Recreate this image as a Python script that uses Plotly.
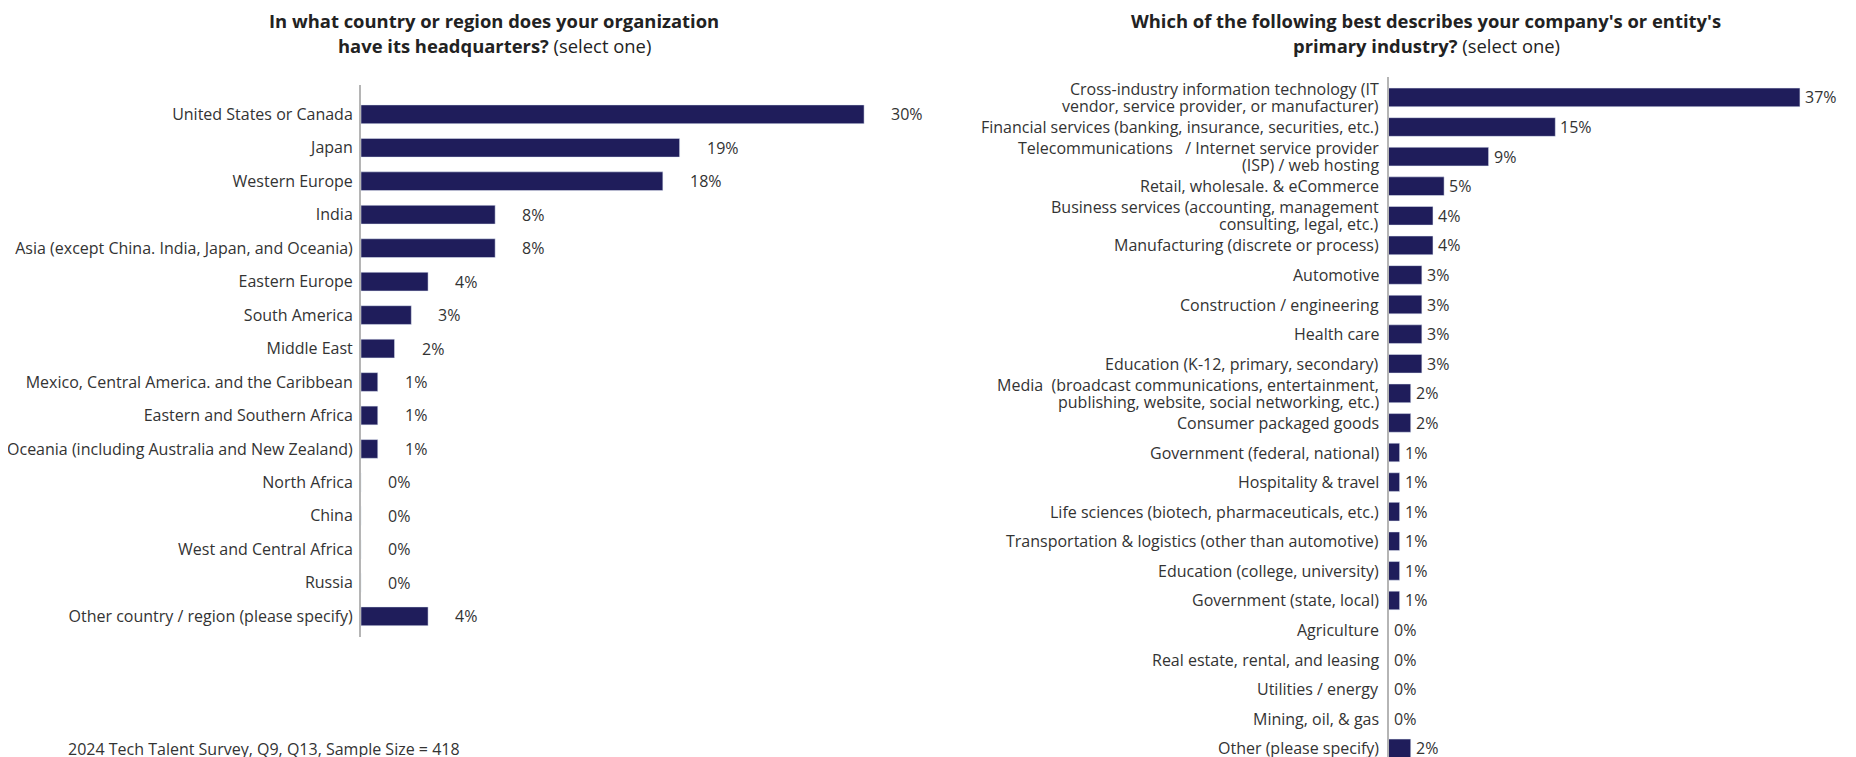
import plotly.graph_objects as go

# ---- Data ----
hq_regions = [
    "United States or Canada", "Japan", "Western Europe", "India",
    "Asia (except China. India, Japan, and Oceania)", "Eastern Europe",
    "South America", "Middle East", "Mexico, Central America. and the Caribbean",
    "Eastern and Southern Africa", "Oceania (including Australia and New Zealand)",
    "North Africa", "China", "West and Central Africa", "Russia",
    "Other country / region (please specify)",
]
hq_values = [30, 19, 18, 8, 8, 4, 3, 2, 1, 1, 1, 0, 0, 0, 0, 4]

industries = [
    "Cross-industry information technology (IT<br>vendor, service provider, or manufacturer)",
    "Financial services (banking, insurance, securities, etc.)",
    "Telecommunications\u00a0\u00a0\u00a0/ Internet service provider<br>(ISP) / web hosting",
    "Retail, wholesale. & eCommerce",
    "Business services (accounting, management<br>consulting, legal, etc.)",
    "Manufacturing (discrete or process)",
    "Automotive",
    "Construction / engineering",
    "Health care",
    "Education (K-12, primary, secondary)",
    "Media\u00a0\u00a0(broadcast communications, entertainment,<br>publishing, website, social networking, etc.)",
    "Consumer packaged goods",
    "Government (federal, national)",
    "Hospitality & travel",
    "Life sciences (biotech, pharmaceuticals, etc.)",
    "Transportation & logistics (other than automotive)",
    "Education (college, university)",
    "Government (state, local)",
    "Agriculture",
    "Real estate, rental, and leasing",
    "Utilities / energy",
    "Mining, oil, & gas",
    "Other (please specify)",
]
industry_values = [37, 15, 9, 5, 4, 4, 3, 3, 3, 3, 2, 2, 1, 1, 1, 1, 1, 1, 0, 0, 0, 0, 2]

left_title = ["<b>In what country or region does your organization</b>",
              "<b>have its headquarters?</b> (select one)"]
right_title = ["<b>Which of the following best describes your company's or entity's</b>",
               "<b>primary industry?</b> (select one)"]
source_note = "2024 Tech Talent Survey, Q9, Q13, Sample Size = 418"

# ---- Style / layout helpers ----
OFF = 8                      # page body margin
FW, FH = 1856 - OFF, 757 - OFF
BAR = "#1f1d5b"
TXT = "#333333"
TITLE = "#222222"
FONT = "Open Sans"
FS = 16


def px(x):   # screen x -> paper fraction
    return (x - OFF) / FW


def py(y):   # screen y -> paper fraction
    return 1 - (y - OFF) / FH


fig = go.Figure()
fig.add_trace(go.Bar(x=hq_values, y=hq_regions, orientation="h", marker_color=BAR,
                     xaxis="x", yaxis="y", hoverinfo="x+y"))
fig.add_trace(go.Bar(x=industry_values, y=industries, orientation="h", marker_color=BAR,
                     xaxis="x2", yaxis="y2", hoverinfo="x+y", width=0.63))

annotations = []
vfont = dict(size=FS, color=TXT, family=FONT)
for v, c in zip(hq_values, hq_regions):
    annotations.append(dict(x=v, y=c, xref="x", yref="y", text=f"{v}%", showarrow=False,
                            xanchor="left", xshift=25, font=vfont))
for v, c in zip(industry_values, industries):
    annotations.append(dict(x=v, y=c, xref="x2", yref="y2", text=f"{v}%", showarrow=False,
                            xanchor="left", xshift=3, font=vfont))
    lines = c.split("<br>")
    n = len(lines)
    for j, ln in enumerate(lines):
        annotations.append(dict(x=0, y=c, xref="x2", yref="y2", text=ln, showarrow=False,
                                xanchor="right", yanchor="middle", xshift=-8,
                                yshift=((n - 1) / 2 - j) * 17, font=vfont))

for i, t in enumerate(left_title):
    annotations.append(dict(x=px(494), y=py(20.5 + 25.5 * i), xref="paper", yref="paper",
                            text=t, showarrow=False, xanchor="center", yanchor="middle",
                            font=dict(size=18.4, color=TITLE, family=FONT)))
for i, t in enumerate(right_title):
    annotations.append(dict(x=px(1426), y=py(20.5 + 25.5 * i), xref="paper", yref="paper",
                            text=t, showarrow=False, xanchor="center", yanchor="middle",
                            font=dict(size=18.4, color=TITLE, family=FONT)))
annotations.append(dict(x=px(66), y=py(749), xref="paper", yref="paper", text=source_note,
                        showarrow=False, xanchor="left", yanchor="middle",
                        font=dict(size=FS, color=TXT, family=FONT)))

axis_common = dict(showline=True, linecolor="#b5b5b5", linewidth=2, showgrid=False,
                   zeroline=False, ticks="", type="category", fixedrange=True)

fig.update_layout(
    width=FW, height=FH,
    margin=dict(l=0, r=0, t=0, b=0),
    paper_bgcolor="white", plot_bgcolor="white",
    showlegend=False, bargap=0.44,
    font=dict(family=FONT, color=TXT),
    xaxis=dict(domain=[px(361), px(914.4)], range=[0, 33], visible=False, fixedrange=True),
    yaxis=dict(domain=[py(636.7), py(85)], anchor="x",
               range=[len(hq_regions) - 1 + 0.61, -0.875],
               tickfont=dict(size=FS, color=TXT, family=FONT), ticklabelstandoff=3,
               **axis_common),
    xaxis2=dict(domain=[px(1388.5), px(1833.3)], range=[0, 40], visible=False,
                anchor="y2", fixedrange=True),
    yaxis2=dict(domain=[0, py(76.7)], anchor="x2", showticklabels=False,
                range=[len(industries) - 1 + 0.29, -0.70], **axis_common),
    annotations=annotations,
)

fig.write_html("out.html")
